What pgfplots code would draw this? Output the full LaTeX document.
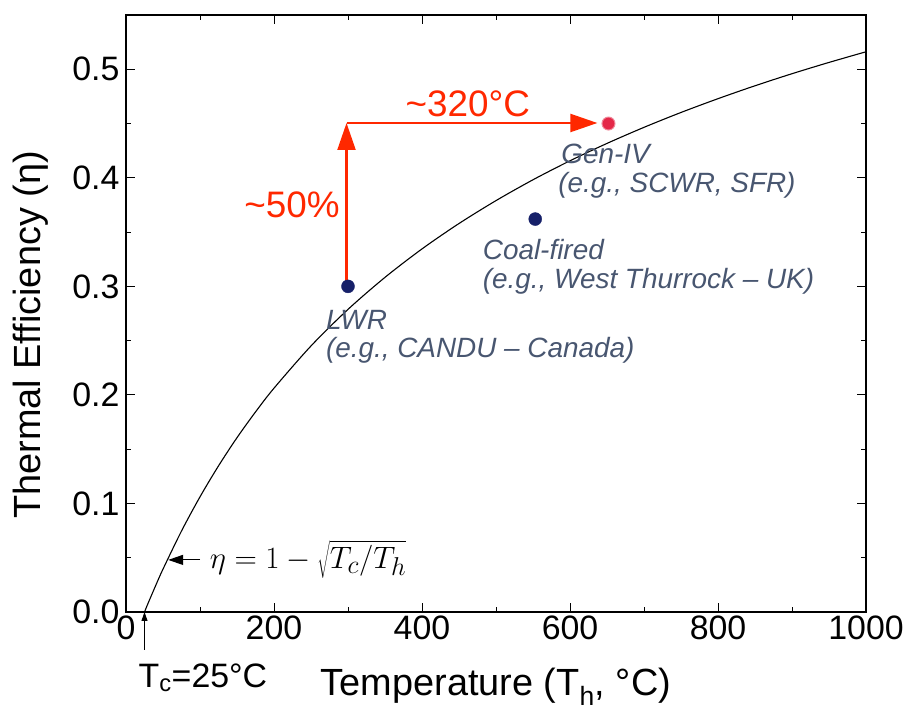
\documentclass[border=0pt]{standalone}
\usepackage{graphicx}
\usepackage{fontspec}
\setmainfont{Liberation Sans}
\usepackage{pgfplots}
\pgfplotsset{compat=1.18}
\usetikzlibrary{arrows.meta}
\definecolor{annred}{RGB}{255,40,0}
\definecolor{lblblue}{RGB}{72,86,112}
\definecolor{navy}{RGB}{22,32,105}
\definecolor{gen}{RGB}{228,40,72}
\begin{document}
\begin{tikzpicture}[x=1bp,y=1bp]
\begin{axis}[
  at={(0,0)}, anchor=south west,
  width=740bp, height=597bp, scale only axis,
  xmin=0, xmax=1000, ymin=0, ymax=0.55,
  xtick={0,200,400,600,800,1000},
  ytick={0,0.1,0.2,0.3,0.4,0.5},
  minor x tick num=1, minor y tick num=1,
  tick align=inside,
  major tick length=9bp, minor tick length=5bp,
  tick label style={font=\fontsize{34}{40}\selectfont},
  xticklabel style={/pgf/number format/1000 sep={}},
  yticklabel style={xshift=-3bp, /pgf/number format/fixed, /pgf/number format/fixed zerofill, /pgf/number format/precision=1},
  /pgf/number format/assume math mode=true,
  xlabel={Temperature (T\textsubscript{h}, °C)},
  ylabel={Thermal Efficiency (η)},
  label style={font=\fontsize{38}{44}\selectfont},
  xlabel style={at={(rel axis cs:0.5,0)}, anchor=base, yshift=-83bp},
  ylabel style={at={(rel axis cs:-0.129,0.464)}, anchor=center},
  axis line style={line width=1.4bp},
  every tick/.style={black, line width=1bp},
  clip=false,
]
\addplot[black, line width=1.1bp, smooth] coordinates {
(25,0) (30,0.0083) (40,0.0242) (50,0.0395) (75,0.0746) (100,0.1061)
(125,0.1346) (150,0.1606) (175,0.1843) (200,0.2062) (250,0.2451)
(300,0.2788) (350,0.3083) (400,0.3345) (450,0.3579) (500,0.3790)
(550,0.3982) (600,0.4157) (650,0.4317) (700,0.4465) (750,0.4602)
(800,0.4729) (850,0.4848) (900,0.4959) (950,0.5063) (1000,0.5161)};
\addplot[annred, line width=2.2bp, -{Triangle[length=27bp,width=18bp]}] coordinates {(298,0.305) (298,0.4505)};
\addplot[annred, line width=2.2bp, -{Triangle[length=27bp,width=18bp]}] coordinates {(298,0.4505) (637,0.4505)};
\addplot[only marks, mark=*, mark size=6.5bp, navy] coordinates {(300,0.30) (553,0.362)};
\addplot[only marks, mark=*, mark size=6.5bp, gen, mark options={draw=gen!55, line width=1bp}] coordinates {(652,0.45)};
\node[annred, font=\fontsize{37}{40}\selectfont] at (axis cs:462,0.468) {\textasciitilde 320°C};
\node[annred, anchor=east, inner sep=0pt, font=\fontsize{37}{40}\selectfont] at (axis cs:289,0.375) {\textasciitilde 50\%};
\node[lblblue, anchor=west, inner sep=0pt, font=\fontsize{28}{31}\selectfont\itshape] at (axis cs:588,0.422) {Gen-IV};
\node[lblblue, anchor=west, inner sep=0pt, font=\fontsize{28}{31}\selectfont\itshape] at (axis cs:584,0.393) {(e.g., SCWR, SFR)};
\node[lblblue, anchor=west, inner sep=0pt, font=\fontsize{28}{31}\selectfont\itshape] at (axis cs:482,0.334) {Coal-fired};
\node[lblblue, anchor=west, inner sep=0pt, font=\fontsize{28}{31}\selectfont\itshape] at (axis cs:482,0.305) {(e.g., West Thurrock – UK)};
\node[lblblue, anchor=west, inner sep=0pt, font=\fontsize{28}{31}\selectfont\itshape] at (axis cs:270,0.269) {LWR};
\node[lblblue, anchor=west, inner sep=0pt, font=\fontsize{28}{31}\selectfont\itshape] at (axis cs:270,0.241) {(e.g., CANDU – Canada)};
\node[anchor=west, inner sep=0pt, font=\fontsize{24.88}{25}\selectfont] at (axis cs:113,0.048) {\scalebox{1.25}{$\eta=1-\sqrt{T_c/T_h}$}};
\draw[black, line width=1.2bp, -{Triangle[length=15bp,width=10bp]}] (axis cs:100,0.048) -- (axis cs:57,0.048);
\draw[black, line width=1bp, -{Triangle[length=9bp,width=6bp]}] (axis cs:25,-0.035) -- (axis cs:25,0);
\node[font=\fontsize{34}{40}\selectfont] at (axis cs:104,-0.0606) {T\textsubscript{c}=25°C};
\end{axis}
\pgfresetboundingbox
\useasboundingbox (-126,-98) rectangle (782,612);
\end{tikzpicture}
\end{document}
